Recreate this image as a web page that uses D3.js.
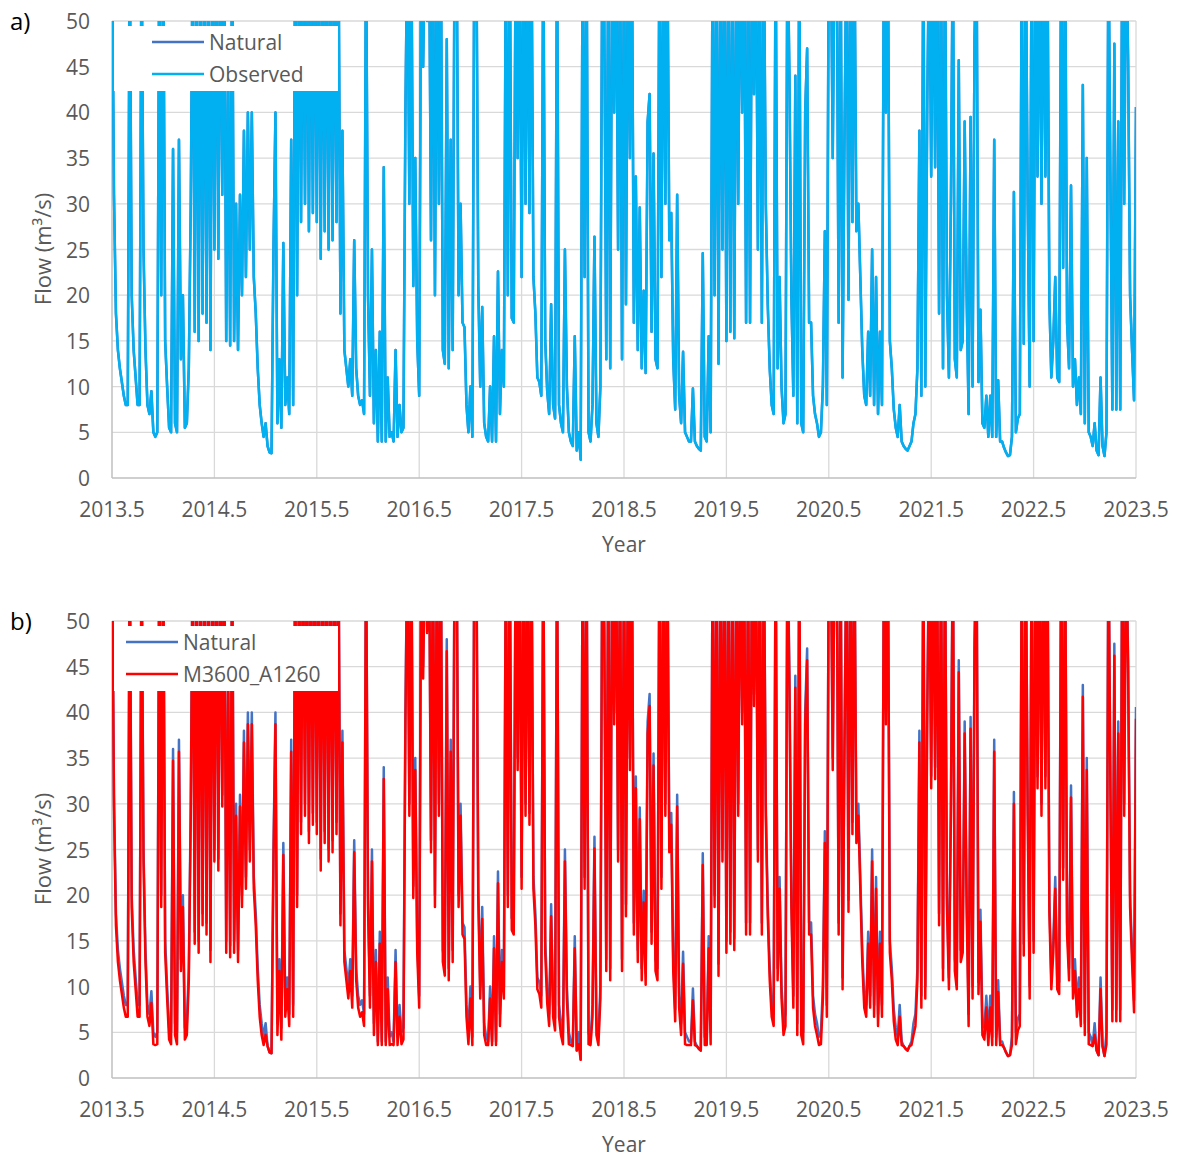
<!DOCTYPE html>
<html>
<head>
<meta charset="utf-8">
<script src="https://cdn.jsdelivr.net/npm/d3@7"></script>
<style>
  body { margin: 0; background: #fff; }
  svg text { font-family: "Open Sans", "Liberation Sans", sans-serif; }
</style>
</head>
<body>
<div id="chart"></div>
<script>
// weekly samples, starting at 2013.5 (decimal year)
const START_YEAR = 2013.5;
const STEP = 1 / 52;
const xTicks = [2013.5, 2014.5, 2015.5, 2016.5, 2017.5, 2018.5, 2019.5, 2020.5, 2021.5, 2022.5, 2023.5];
const yTicks = [0, 5, 10, 15, 20, 25, 30, 35, 40, 45, 50];

const natural = [
  60,31,18,14,12,10.5,9,8,8,60,20,14,11,8,8,60,25,14,8,7,
  9.5,5,4.5,5,60,20,60,15,10,5.5,5,36,6,5,37,13,20,5.5,6,12,
  30,60,16,60,15,60,18,60,17,60,14,60,25,60,24,60,31,60,15,45,
  14.5,60,15,30,14,31,20,38,22,40,25,40,22,18,12,8,6,4.5,6,3.5,
  2.8,2.7,25,40,6,13,5.5,25.7,8,11,7,37,8,60,20,60,28,60,30,60,
  27,60,29,60,28,60,24,60,27,60,25,60,26,60,28,60,18,38,14,12,
  10,13,9,26,12,9,8,8.5,7,60,20,9,25,6,14,4,16,4,34,4,
  11,4.5,5,4,14,4.5,8,5,5.5,40,60,30,60,21,35,15,9,60,45,60,
  50,60,26,60,20,60,30,60,14,12.5,48,12,37,14,60,60,20,30,17,16.5,
  8,5,10,4.5,60,60,21,10,18.7,6,4.5,4,10,4,15.5,4,22.6,7,14,10,
  60,20,60,17.5,17,60,35,60,22,60,30,60,29,60,22,18,11,10.5,9,60,
  15,9.5,7,19,8,6.5,60,8,6,5,25,10,5,4,3.5,15.5,3,5,2,60,
  22,60,5,4,8,26.4,6,4.5,10,60,50,13,60,12,60,40,60,25,60,13,
  60,19,60,35,60,17,33,14,29.6,12,20.5,11.5,39,42,16,35.5,13,12,60,22,
  60,30,60,26,29,13,7.5,31,9,6,13.8,5,4.5,4,4,9.8,4,3.5,3.2,3,
  24.6,4.5,4,15.5,5,60,20,60,12.5,60,25,60,15,60,16,60,15.3,60,30,60,
  40,60,17,60,17,60,42,60,25,60,17,60,30,19,12,8,7,60,12,22,
  10,6,7,60,44,20,9,44,6,60,6,5,40,47,17,17,9,7,6,4.5,
  5,10,27,8,60,60,35,60,60,17,60,11,38,60,19.5,60,28,60,27,30,
  22,14,9,8,16,9,25,8,22,7,16,8,60,40,60,15,12,7.5,5.5,4.5,
  8,4,3.5,3.2,3,3.5,4,6,7,12,38,9,60,10,41,60,33,60,34,60,
  18,60,12,60,20,11,30,60,13,11,45.7,14,15,39,20,7,39.5,10,48,60,
  10.5,18.4,6,5.5,9,4.5,9,4.5,37,4.5,10.7,4,4,3.3,2.8,2.4,2.5,4.5,31.3,5,
  6.5,7,60,14.7,60,30,10,60,15,60,33,60,30,60,33,60,19.5,11,15,22,
  11,10.5,60,23,60,17,12,32,10,13,8,11,7,43,6,35,5,4.5,3.5,6,
  3,2.5,11,3.5,2.4,5,60,33,7.5,47.5,7.5,39,7.5,60,30,60,45.7,20,14,8.5,40.6
];

const observed = [
  60,31,18,14,12,10.5,9,8,8,60,20,14,11,8,8,60,25,14,8,7,
  9.5,5,4.5,5,60,20,60,15,10,5.5,5,36,6,5,37,13,20,5.5,6,12,
  30,60,16,60,15,60,18,60,17,60,14,60,25,60,24,60,31,60,15,45,
  14.5,60,15,30,14,31,20,38,22,40,25,40,22,18,12,8,6,4.5,6,3.5,
  2.8,2.7,25,40,6,13,5.5,25.7,8,11,7,37,8,60,20,60,28,60,30,60,
  27,60,29,60,28,60,24,60,27,60,25,60,26,60,28,60,18,38,14,12,
  10,13,9,26,12,9,8,8.5,7,60,20,9,25,6,14,4,16,4,34,4,
  11,4.5,5,4,14,4.5,8,5,5.5,40,60,30,60,21,35,15,9,60,45,60,
  50,60,26,60,20,60,30,60,14,12.5,48,12,37,14,60,60,20,30,17,16.5,
  8,5,10,4.5,60,60,21,10,18.7,6,4.5,4,10,4,15.5,4,22.6,7,14,10,
  60,20,60,17.5,17,60,35,60,22,60,30,60,29,60,22,18,11,10.5,9,60,
  15,9.5,7,19,8,6.5,60,8,6,5,25,10,5,4,3.5,15.5,3,5,2,60,
  22,60,5,4,8,26.4,6,4.5,10,60,50,13,60,12,60,40,60,25,60,13,
  60,19,60,35,60,17,33,14,29.6,12,20.5,11.5,39,42,16,35.5,13,12,60,22,
  60,30,60,26,29,13,7.5,31,9,6,13.8,5,4.5,4,4,9.8,4,3.5,3.2,3,
  24.6,4.5,4,15.5,5,60,20,60,12.5,60,25,60,15,60,16,60,15.3,60,30,60,
  40,60,17,60,17,60,42,60,25,60,17,60,30,19,12,8,7,60,12,22,
  10,6,7,60,44,20,9,44,6,60,6,5,40,47,17,17,9,7,6,4.5,
  5,10,27,8,60,60,35,60,60,17,60,11,38,60,19.5,60,28,60,27,30,
  22,14,9,8,16,9,25,8,22,7,16,8,60,40,60,15,12,7.5,5.5,4.5,
  8,4,3.5,3.2,3,3.5,4,6,7,12,38,9,60,10,41,60,33,60,34,60,
  18,60,12,60,20,11,30,60,13,11,45.7,14,15,39,20,7,39.5,10,48,60,
  10.5,18.4,6,5.5,9,4.5,9,4.5,37,4.5,10.7,4,4,3.3,2.8,2.4,2.5,4.5,31.3,5,
  6.5,7,60,14.7,60,30,10,60,15,60,33,60,30,60,33,60,19.5,11,15,22,
  11,10.5,60,23,60,17,12,32,10,13,8,11,7,43,6,35,5,4.5,3.5,6,
  3,2.5,11,3.5,2.4,5,60,33,7.5,47.5,7.5,39,7.5,60,30,60,45.7,20,14,8.5,40.6
];

const m3600 = [
  60,29.7,16.7,12.7,10.7,9.2,7.7,6.7,6.7,60,18.7,12.7,9.7,6.7,6.7,60,23.7,12.7,6.7,5.7,
  8.2,3.7,3.6,3.7,60,18.7,60,13.7,8.7,4.2,3.7,34.7,4.7,3.7,35.7,11.7,18.7,4.2,4.7,10.7,
  28.7,60,14.7,60,13.7,60,16.7,60,15.7,60,12.7,60,23.7,60,22.7,60,29.7,60,13.7,43.7,
  13.2,60,13.7,28.7,12.7,29.7,18.7,36.7,20.7,38.7,23.7,38.7,20.7,16.7,10.7,6.7,4.7,3.6,4.7,3.5,
  2.8,2.7,23.7,38.7,4.7,11.7,4.2,24.4,6.7,9.7,5.7,35.7,6.7,60,18.7,60,26.7,60,28.7,60,
  25.7,60,27.7,60,26.7,60,22.7,60,25.7,60,23.7,60,24.7,60,26.7,60,16.7,36.7,12.7,10.7,
  8.7,11.7,7.7,24.7,10.7,7.7,6.7,7.2,5.7,60,18.7,7.7,23.7,4.7,12.7,3.6,14.7,3.6,32.7,3.6,
  9.7,3.6,3.7,3.6,12.7,3.6,6.7,3.7,4.2,38.7,60,28.7,60,19.7,33.7,13.7,7.7,60,43.7,60,
  48.7,60,24.7,60,18.7,60,28.7,60,12.7,11.2,46.7,10.7,35.7,12.7,60,60,18.7,28.7,15.7,15.2,
  6.7,3.7,8.7,3.6,60,60,19.7,8.7,17.4,4.7,3.6,3.6,8.7,3.6,14.2,3.6,21.3,5.7,12.7,8.7,
  60,18.7,60,16.2,15.7,60,33.7,60,20.7,60,28.7,60,27.7,60,20.7,16.7,9.7,9.2,7.7,60,
  13.7,8.2,5.7,17.7,6.7,5.2,60,6.7,4.7,3.7,23.7,8.7,3.7,3.6,3.5,14.2,3,3.7,2,60,
  20.7,60,3.7,3.6,6.7,25.1,4.7,3.6,8.7,60,48.7,11.7,60,10.7,60,38.7,60,23.7,60,11.7,
  60,17.7,60,33.7,60,15.7,31.7,12.7,28.3,10.7,19.2,10.2,37.7,40.7,14.7,34.2,11.7,10.7,60,20.7,
  60,28.7,60,24.7,27.7,11.7,6.2,29.7,7.7,4.7,12.5,3.7,3.6,3.6,3.6,8.5,3.6,3.5,3.2,3,
  23.3,3.6,3.6,14.2,3.7,60,18.7,60,11.2,60,23.7,60,13.7,60,14.7,60,14,60,28.7,60,
  38.7,60,15.7,60,15.7,60,40.7,60,23.7,60,15.7,60,28.7,17.7,10.7,6.7,5.7,60,10.7,20.7,
  8.7,4.7,5.7,60,42.7,18.7,7.7,42.7,4.7,60,4.7,3.7,38.7,45.7,15.7,15.7,7.7,5.7,4.7,3.6,
  3.7,8.7,25.7,6.7,60,60,33.7,60,60,15.7,60,9.7,36.7,60,18.2,60,26.7,60,25.7,28.7,
  20.7,12.7,7.7,6.7,14.7,7.7,23.7,6.7,20.7,5.7,14.7,6.7,60,38.7,60,13.7,10.7,6.2,4.2,3.6,
  6.7,3.6,3.5,3.2,3,3.5,3.6,4.7,5.7,10.7,36.7,7.7,60,8.7,39.7,60,31.7,60,32.7,60,
  16.7,60,10.7,60,18.7,9.7,28.7,60,11.7,9.7,44.4,12.7,13.7,37.7,18.7,5.7,38.2,8.7,46.7,60,
  9.2,17.1,4.7,4.2,7.7,3.6,7.7,3.6,35.7,3.6,9.4,3.6,3.6,3.3,2.8,2.4,2.5,3.6,30,3.7,
  5.2,5.7,60,13.4,60,28.7,8.7,60,13.7,60,31.7,60,28.7,60,31.7,60,18.2,9.7,13.7,20.7,
  9.7,9.2,60,21.7,60,15.7,10.7,30.7,8.7,11.7,6.7,9.7,5.7,41.7,4.7,33.7,3.7,3.6,3.5,4.7,
  3,2.5,9.7,3.5,2.4,3.7,60,31.7,6.2,46.2,6.2,37.7,6.2,60,28.7,60,44.4,18.7,12.7,7.2,39.3
];

(function () {
  const W = 1179, H = 1159;
  const LEFT = 112, RIGHT = 1136, PLOT_H = 457;
  const TEXT = "#595959", GRID = "#d9d9d9", AXIS = "#bfbfbf";

  const panels = [
    {
      id: "a", label: "a)", top: 21, lineX: [152, 204], textX: 209,
      series: [
        { name: "Natural", values: natural, color: "#4472C4" },
        { name: "Observed", values: observed, color: "#00B0F0" }
      ]
    },
    {
      id: "b", label: "b)", top: 621, lineX: [126, 178], textX: 183,
      series: [
        { name: "Natural", values: natural, color: "#4472C4" },
        { name: "M3600_A1260", values: m3600, color: "#FF0000" }
      ]
    }
  ];

  const svg = d3.select("#chart").append("svg")
    .attr("width", W).attr("height", H)
    .attr("viewBox", `0 0 ${W} ${H}`);

  const x = d3.scaleLinear().domain([2013.5, 2023.5]).range([LEFT, RIGHT]);

  panels.forEach((p) => {
    const bottom = p.top + PLOT_H;
    const y = d3.scaleLinear().domain([0, 50]).range([bottom, p.top]);
    const g = svg.append("g");

    // --- grid ---
    g.selectAll(".hgrid").data(yTicks.slice(1)).enter().append("line")
      .attr("x1", LEFT).attr("x2", RIGHT)
      .attr("y1", (d) => y(d)).attr("y2", (d) => y(d))
      .attr("stroke", GRID).attr("stroke-width", 1.3);
    g.selectAll(".vgrid").data(xTicks.slice(1)).enter().append("line")
      .attr("x1", (d) => x(d)).attr("x2", (d) => x(d))
      .attr("y1", p.top).attr("y2", bottom)
      .attr("stroke", GRID).attr("stroke-width", 1.3);

    // axis lines
    g.append("line").attr("x1", LEFT).attr("x2", RIGHT)
      .attr("y1", bottom).attr("y2", bottom)
      .attr("stroke", AXIS).attr("stroke-width", 1.5);
    g.append("line").attr("x1", LEFT).attr("x2", LEFT)
      .attr("y1", p.top).attr("y2", bottom)
      .attr("stroke", AXIS).attr("stroke-width", 1.5);

    // --- tick labels ---
    g.selectAll(".ytl").data(yTicks).enter().append("text")
      .attr("x", 90).attr("y", (d) => y(d))
      .attr("text-anchor", "end").attr("dominant-baseline", "central")
      .attr("font-size", 21).attr("fill", TEXT)
      .text((d) => d);
    g.selectAll(".xtl").data(xTicks).enter().append("text")
      .attr("x", (d) => x(d)).attr("y", bottom + 31)
      .attr("text-anchor", "middle").attr("dominant-baseline", "central")
      .attr("font-size", 21).attr("fill", TEXT)
      .text((d) => d.toFixed(1));

    // --- titles ---
    g.append("text")
      .attr("x", (LEFT + RIGHT) / 2).attr("y", bottom + 66)
      .attr("text-anchor", "middle").attr("dominant-baseline", "central")
      .attr("font-size", 21).attr("fill", TEXT).text("Year");
    g.append("text")
      .attr("transform", `translate(42,${p.top + 228}) rotate(-90)`)
      .attr("text-anchor", "middle").attr("dominant-baseline", "central")
      .attr("font-size", 22).attr("fill", TEXT).text("Flow (m³/s)");
    g.append("text")
      .attr("x", 10).attr("y", p.top + 9)
      .attr("font-size", 24).attr("fill", "#000").text(p.label);

    // --- series (clipped to plot area) ---
    const clipId = "clip-" + p.id;
    svg.append("clipPath").attr("id", clipId).append("rect")
      .attr("x", LEFT).attr("y", p.top)
      .attr("width", RIGHT - LEFT).attr("height", PLOT_H);

    const line = d3.line()
      .x((d, i) => x(START_YEAR + i * STEP))
      .y((d) => y(d));

    const lines = g.append("g").attr("clip-path", `url(#${clipId})`);
    p.series.forEach((s) => {
      lines.append("path")
        .datum(s.values)
        .attr("d", line)
        .attr("fill", "none")
        .attr("stroke", s.color)
        .attr("stroke-width", 2.5)
        .attr("stroke-linejoin", "round");
    });

    // --- legend ---
    const lg = g.append("g");
    lg.append("rect")
      .attr("x", LEFT + 2).attr("y", p.top + 5)
      .attr("width", 224).attr("height", 65)
      .attr("fill", "#fff");
    p.series.forEach((s, k) => {
      const ly = p.top + 21 + k * 32;
      lg.append("line")
        .attr("x1", p.lineX[0]).attr("x2", p.lineX[1])
        .attr("y1", ly).attr("y2", ly)
        .attr("stroke", s.color).attr("stroke-width", 2.5);
      lg.append("text")
        .attr("x", p.textX).attr("y", ly)
        .attr("dominant-baseline", "central")
        .attr("font-size", 21).attr("fill", TEXT)
        .text(s.name);
    });
  });
})();
</script>
</body>
</html>
